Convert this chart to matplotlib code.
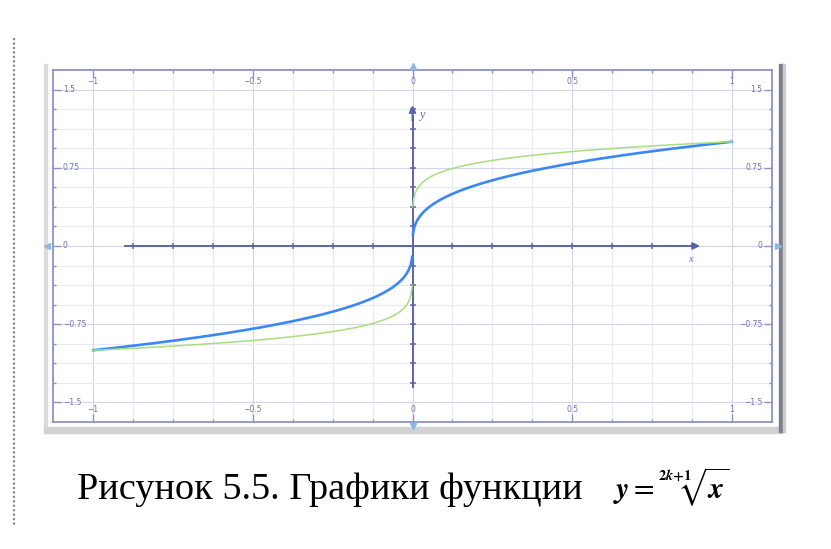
import numpy as np
import matplotlib.pyplot as plt
import matplotlib.transforms as mtransforms
from matplotlib.patches import Rectangle

# y = (2k+1)-th root of x, two odd root degrees
root_degrees = [3, 7]
curve_colors = ['#3b88f5', '#a8de7e']
curve_widths = [1.9, 1.1]

x_labels = [-1, -0.5, 0, 0.5, 1]
y_labels = [-1.5, -0.75, 0, 0.75, 1.5]
x_step = 0.125
y_step = 0.1875
x_lim = (-1.125, 1.125)
y_lim = (-1.6875, 1.6875)

caption = 'Рисунок 5.5. Графики функции'
formula = r'$\mathbfit{y} = \sqrt[\mathbf{2}\mathbfit{k}\mathbf{+1}]{\mathbfit{x}}$'

W, H = 831, 549
fig = plt.figure(figsize=(W / 100, H / 100), dpi=100)

# page decorations drawn in pixel space
bg = fig.add_axes([0, 0, 1, 1])
bg.set_xlim(0, W)
bg.set_ylim(H, 0)
bg.axis('off')
bg.plot([14, 14], [38, 525], color='#8a8a8a', lw=1.6, ls=(0, (1, 1)))
bg.add_patch(Rectangle((44, 64), 3, 369, color='#dadada'))
bg.add_patch(Rectangle((44, 427), 738, 6, color='#d2d2d2'))
bg.add_patch(Rectangle((779, 64), 4, 368, color='#7b808a'))
bg.add_patch(Rectangle((783, 64), 2, 368, color='#c9cdd5'))


def px_box(x0, y0, x1, y1):
    return [x0 / W, 1 - y1 / H, (x1 - x0) / W, (y1 - y0) / H]


ax = fig.add_axes(px_box(53, 70, 772, 422))
ax.set_xlim(*x_lim)
ax.set_ylim(*y_lim)

frame_col = '#8c93c4'
label_col = '#6b73a8'
axis_col = '#5a64a8'

for s in ax.spines.values():
    s.set_color(frame_col)
    s.set_linewidth(1.3)

x_minor = np.arange(-1, 1.0001, x_step)
y_minor = np.arange(-1.5, 1.5001, y_step)
ax.set_xticks(x_labels)
ax.set_yticks(y_labels)
ax.set_xticks(x_minor, minor=True)
ax.set_yticks(y_minor, minor=True)
ax.tick_params(which='both', direction='in', top=True, right=True,
               labelbottom=False, labelleft=False, color=frame_col, width=1)
ax.tick_params(which='major', length=5.5)
ax.tick_params(which='minor', length=2.3)
ax.grid(which='major', color='#d3d6ea', lw=0.8)
ax.grid(which='minor', color='#e8e9f3', lw=0.8)
ax.set_axisbelow(True)


def fmt(v):
    s = ('%g' % v).replace('-', '\u2212')
    return s


for v in x_labels:
    ax.annotate(fmt(v), xy=(v, y_lim[1]), xytext=(0, -8.5), textcoords='offset points',
                ha='center', va='center', fontsize=5.5, color=label_col)
    ax.annotate(fmt(v), xy=(v, y_lim[0]), xytext=(0, 9), textcoords='offset points',
                ha='center', va='center', fontsize=5.5, color=label_col)
for v in y_labels:
    ax.annotate(fmt(v), xy=(x_lim[0], v), xytext=(7, 0), textcoords='offset points',
                ha='left', va='center', fontsize=5.5, color=label_col)
    ax.annotate(fmt(v), xy=(x_lim[1], v), xytext=(-7, 0), textcoords='offset points',
                ha='right', va='center', fontsize=5.5, color=label_col)

# central axes with arrows
ax.plot([-0.9, 0.85], [0, 0], color=axis_col, lw=1.4, zorder=3)
ax.annotate('', xy=(0.9, 0), xytext=(0.8, 0),
            arrowprops=dict(arrowstyle='-|>', color=axis_col, lw=1.4,
                            mutation_scale=10, shrinkA=0, shrinkB=0), zorder=3)
ax.plot([0, 0], [-1.35, 1.25], color=axis_col, lw=1.4, zorder=3)
ax.annotate('', xy=(0, 1.35), xytext=(0, 1.2),
            arrowprops=dict(arrowstyle='-|>', color=axis_col, lw=1.4,
                            mutation_scale=10, shrinkA=0, shrinkB=0), zorder=3)
xt = x_minor[(np.abs(x_minor) < 0.9) & (x_minor != 0)]
yt = y_minor[(np.abs(y_minor) < 1.35) & (y_minor != 0)]
ax.plot(xt, np.zeros_like(xt), ls='none', marker='|', ms=4, mew=1.1, color=axis_col, zorder=3)
ax.plot(np.zeros_like(yt), yt, ls='none', marker='_', ms=4, mew=1.1, color=axis_col, zorder=3)
ax.text(0.87, -0.13, 'x', fontsize=7.5, style='italic', family='Liberation Serif',
        color=label_col, ha='center', va='center')
ax.text(0.03, 1.26, 'y', fontsize=9, style='italic', family='Liberation Serif',
        color=label_col, ha='center', va='center')

# edge markers at the origin lines
mk = '#8db8e6'
for xy, m, dx, dy in [((0, y_lim[1]), '^', 0, 3), ((0, y_lim[0]), 'v', 0, -3),
                      ((x_lim[0], 0), '<', -4, 0), ((x_lim[1], 0), '>', 4, 0)]:
    tr = mtransforms.offset_copy(ax.transData, fig=fig, x=dx, y=dy, units='points')
    ax.plot([xy[0]], [xy[1]], marker=m, ms=5, color=mk, transform=tr, clip_on=False, zorder=4)

# function curves
xs = np.linspace(-1, 1, 2001)
for n, c, w in zip(root_degrees, curve_colors, curve_widths):
    for part in (xs[xs < 0], xs[xs > 0]):
        ax.plot(part, np.sign(part) * np.abs(part) ** (1.0 / n), color=c, lw=w, zorder=5,
                solid_capstyle='round')

fig.text(77 / W, 1 - 499 / H, caption, fontsize=27.5, family='Liberation Serif',
         va='baseline', ha='left')
fig.text(613 / W, 1 - 499 / H, formula, fontsize=21.5, math_fontfamily='stix',
         va='baseline', ha='left')

fig.savefig('out.png', dpi=100)
